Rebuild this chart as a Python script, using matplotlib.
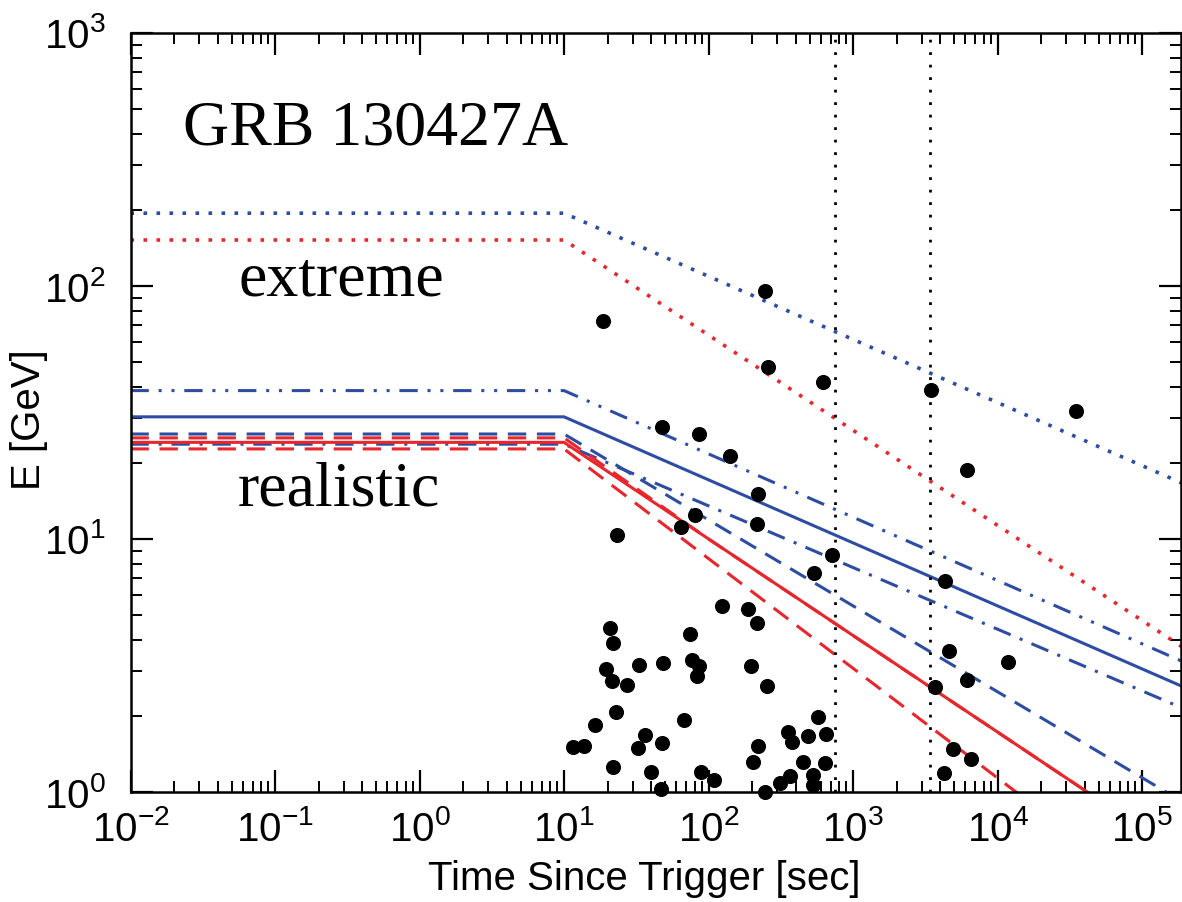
import numpy as np
import matplotlib
matplotlib.use("Agg")
import matplotlib.pyplot as plt
from matplotlib.ticker import LogLocator, NullFormatter

plt.rcParams['font.family'] = ['Liberation Sans', 'DejaVu Sans']
plt.rcParams['mathtext.default'] = 'regular'

# ---------------- data ----------------
# photon events: time since trigger [s], energy [GeV]
photon_t = [18.6, 246, 258, 620, 47.7, 86, 141, 3470, 34900, 6150,
            220, 80.7, 64.6, 23.3, 217, 716, 537, 124, 188, 217,
            20.8, 74.5, 4335, 4617, 11830, 6150, 3690, 4920, 6560, 4265,
            21.8, 19.5, 21.5, 27.3, 33.0, 48.4, 76.9, 86, 83.2, 197,
            254, 22.9, 16.4, 11.5, 13.8, 36.4, 32.5, 47.7, 67.7, 21.8,
            40.0, 46.9, 88.7, 109, 573, 355, 378, 488, 650, 220,
            203, 451, 640, 366, 313, 528, 528, 246]
photon_E = [72.8, 95.5, 47.8, 41.8, 27.7, 26.0, 21.3, 38.8, 32.1, 18.7,
            15.1, 12.4, 11.2, 10.4, 11.5, 8.65, 7.34, 5.43, 5.29, 4.66,
            4.45, 4.21, 6.82, 3.61, 3.26, 2.77, 2.60, 1.48, 1.35, 1.19,
            3.88, 3.06, 2.75, 2.65, 3.18, 3.24, 3.32, 3.15, 2.87, 3.15,
            2.62, 2.07, 1.84, 1.51, 1.52, 1.68, 1.49, 1.56, 1.93, 1.26,
            1.20, 1.03, 1.20, 1.12, 1.98, 1.73, 1.58, 1.66, 1.69, 1.52,
            1.31, 1.31, 1.30, 1.16, 1.09, 1.17, 1.07, 1.00]

# model curves: start, break (10 s), end
model_t = [0.01, 10.0, 2.0e5]
ext_blue_dot = [194, 194, 16.4]
ext_red_dot = [152, 152, 3.67]
blue_dashdotdot = [38.6, 38.6, 3.24]
blue_solid = [30.4, 30.4, 2.58]
blue_dashed = [26.0, 26.0, 0.90]
blue_dashdot = [23.7, 23.7, 2.12]
red_solid = [24.1, 24.1, 0.55]
red_dashed_lo = [22.7, 22.7, 0.31]
# upper red dashed merges into the red solid line
red_dashed_up_t = [0.01, 10.0, 100.0, 2.0e5]
red_dashed_up = [25.1, 25.1, 10.0, 0.55]

vlines_t = [750, 3400]

x_ticks = [1e-2, 1e-1, 1e0, 1e1, 1e2, 1e3, 1e4, 1e5]
y_ticks = [1e0, 1e1, 1e2, 1e3]

BLUE = '#2c4da3'
RED = '#e8262c'

# ---------------- figure ----------------
fig = plt.figure(figsize=(11.82, 9.02), dpi=100)
ax = fig.add_axes([130.5/1182, 1-792/902, (1181-130.5)/1182, (792-33)/902])
ax.set_xscale('log')
ax.set_yscale('log')
ax.set_xlim(0.01, 1.86e5)
ax.set_ylim(1, 1000)

lw = 2.2
ax.plot(model_t, ext_blue_dot, color=BLUE, lw=2.6, dashes=(1, 2.6))
ax.plot(model_t, ext_red_dot, color=RED, lw=2.6, dashes=(1, 2.6))
ax.plot(model_t, blue_dashdotdot, color=BLUE, lw=lw, dashes=(6, 3.2, 1, 3.2, 1, 3.2))
ax.plot(model_t, blue_solid, color=BLUE, lw=lw)
ax.plot(model_t, blue_dashed, color=BLUE, lw=lw, dashes=(6, 3.5))
ax.plot(model_t, blue_dashdot, color=BLUE, lw=lw, dashes=(6, 3.2, 1, 3.2))
ax.plot(red_dashed_up_t, red_dashed_up, color=RED, lw=lw, dashes=(6, 3.5))
ax.plot(model_t, red_solid, color=RED, lw=lw)
ax.plot(model_t, red_dashed_lo, color=RED, lw=lw, dashes=(6, 3.5))

for tv in vlines_t:
    ax.axvline(tv, color='black', lw=2.0, dashes=(1, 3.5))

ax.scatter(photon_t, photon_E, s=118, color='black', zorder=5, clip_on=False,
           linewidths=0)

# ---------------- text ----------------
SERIF = ['Liberation Serif', 'DejaVu Serif']
ax.text(0.0231, 361, 'GRB 130427A', family=SERIF, fontsize=46,
        va='baseline', ha='left')
ax.text(0.0555, 92, 'extreme', family=SERIF, fontsize=46,
        va='baseline', ha='left')
ax.text(0.0555, 13.6, 'realistic', family=SERIF, fontsize=46,
        va='baseline', ha='left')

# ---------------- axes styling ----------------
for sp in ax.spines.values():
    sp.set_linewidth(1.8)

ax.set_xticks(x_ticks)
ax.set_yticks(y_ticks)
ax.xaxis.set_minor_locator(LogLocator(base=10, subs=np.arange(2, 10), numticks=20))
ax.yaxis.set_minor_locator(LogLocator(base=10, subs=np.arange(2, 10), numticks=20))
ax.xaxis.set_minor_formatter(NullFormatter())
ax.yaxis.set_minor_formatter(NullFormatter())
ax.set_xlim(0.01, 1.86e5)
ax.set_ylim(1, 1000)

ax.tick_params(which='both', direction='in', top=True, right=True)
ax.tick_params(which='major', length=16, width=1.6, labelsize=29)
ax.tick_params(which='minor', length=8, width=1.4)
ax.tick_params(axis='x', which='major', pad=13)
ax.tick_params(axis='y', which='major', pad=18)

ax.set_xlabel('Time Since Trigger [sec]', fontsize=29)
ax.set_ylabel('E [GeV]', fontsize=29)
ax.xaxis.set_label_coords(0.489, -0.090)
ax.yaxis.set_label_coords(-0.079, 0.49)

fig.savefig('out.png', dpi=100)
